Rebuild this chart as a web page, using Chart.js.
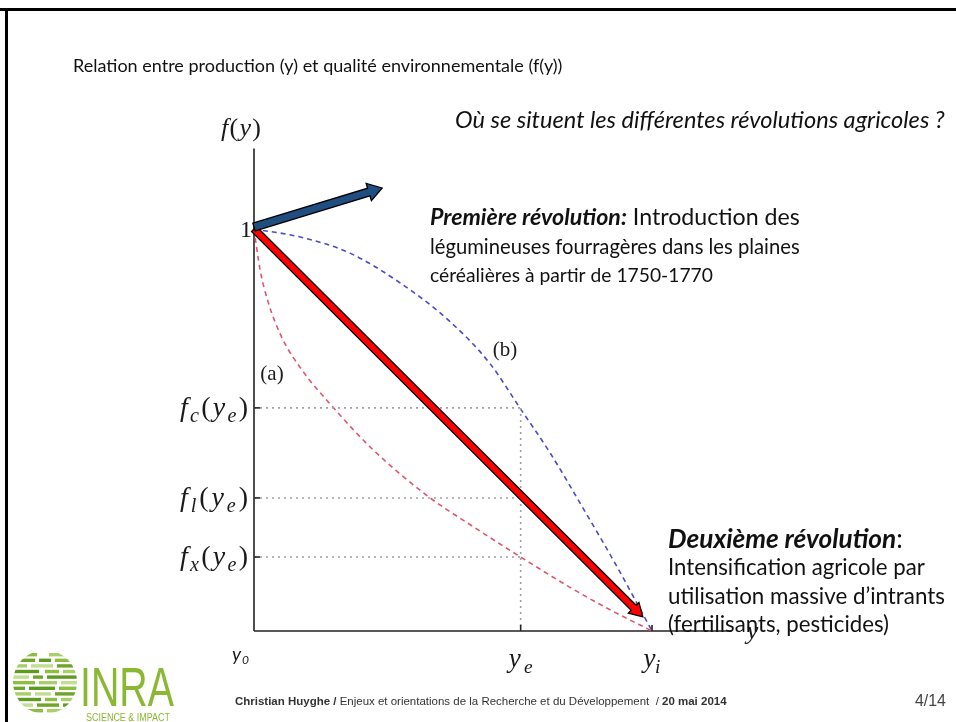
<!DOCTYPE html>
<html>
<head>
<meta charset="utf-8">
<script src="https://cdn.jsdelivr.net/npm/chart.js@4.4.1/dist/chart.umd.min.js"></script>
<style>
  html, body { margin: 0; padding: 0; background: #fff; }
  #wrap { width: 956px; height: 722px; position: relative; }
</style>
</head>
<body>
<div id="wrap"><canvas id="c"></canvas></div>
<script>
"use strict";

// production y (0 = y0, 1 = yi) and environmental quality f(y)
const curveBX = [0, 0.116, 0.241, 0.367, 0.492, 0.593, 0.668, 0.744, 0.827, 0.912, 1];
const curveBF = [1, 0.98, 0.94, 0.866, 0.77, 0.665, 0.555, 0.443, 0.305, 0.16, 0];
const curveAX = [0, 0.015, 0.035, 0.07, 0.12, 0.2, 0.3, 0.44, 0.55, 0.67, 0.8, 0.9, 1];
const curveAF = [1, 0.9, 0.82, 0.73, 0.65, 0.555, 0.45, 0.333, 0.26, 0.184, 0.105, 0.05, 0];

// reference levels
const yE = 0.67;
const yI = 1;
const levelNames = ['c', 'l', 'x'];
const levelValues = [0.555, 0.331, 0.184];

// arrows: [x0, f0, x1, f1]
const redArrow = [0, 1, 0.977, 0.035];
const blueArrow = [0, 1.005, 0.322, 1.102];

const X_MAX = 1.2;
const F_MAX = 1.2;

const pts = (xs, fs) => xs.map((x, i) => ({ x: x, y: fs[i] }));

const guideSets = levelValues.map(v => ({
  data: [{ x: 0, y: v }, { x: yE, y: v }],
  borderColor: '#a0a0a0', borderWidth: 1.6, borderDash: [2, 4]
}));

const datasets = [
  ...guideSets,
  {
    data: [{ x: yE, y: levelValues[0] }, { x: yE, y: 0 }],
    borderColor: '#a0a0a0', borderWidth: 1.6, borderDash: [2, 4]
  },
  {
    data: pts(curveAX, curveAF),
    borderColor: '#e0556e', borderWidth: 1.6, borderDash: [5, 4],
    tension: 0.4, cubicInterpolationMode: 'monotone'
  },
  {
    data: pts(curveBX, curveBF),
    borderColor: '#4b4bc4', borderWidth: 1.6, borderDash: [5, 4],
    tension: 0.4, cubicInterpolationMode: 'monotone'
  },
  // axes
  { data: [{ x: 0, y: 0 }, { x: 0, y: F_MAX }], borderColor: '#222', borderWidth: 1.6 },
  { data: [{ x: 0, y: 0 }, { x: X_MAX, y: 0 }], borderColor: '#222', borderWidth: 1.6 }
];

function segWidth(ctx, segs, size, family) {
  let w = 0;
  for (const s of segs) {
    ctx.font = (s.i ? 'italic ' : '') + (s.b ? 'bold ' : '') + size + 'px ' + family;
    w += ctx.measureText(s.t).width;
  }
  return w;
}

// draws rich text; if target width given, font size is fitted to it
function drawRich(ctx, segs, x, y, size, family, target) {
  if (target) size = size * target / segWidth(ctx, segs, size, family);
  ctx.textBaseline = 'middle';
  ctx.textAlign = 'left';
  for (const s of segs) {
    ctx.font = (s.i ? 'italic ' : '') + (s.b ? 'bold ' : '') + size + 'px ' + family;
    ctx.fillText(s.t, x, y);
    x += ctx.measureText(s.t).width;
  }
}

// math label: parts [text, italic, sub]; target = overall width (spacing is spread)
function drawMath(ctx, parts, x, y, size, align, target) {
  const fam = '"Liberation Serif", "DejaVu Serif", serif';
  const fonts = parts.map(p => (p[1] ? 'italic ' : '') + (p[2] ? size * 0.72 : size) + 'px ' + fam);
  const widths = parts.map((p, i) => { ctx.font = fonts[i]; return ctx.measureText(p[0]).width; });
  let w = widths.reduce((a, b) => a + b, 0);
  let gap = 0;
  if (target && parts.length > 1) { gap = (target - w) / (parts.length - 1); w = target; }
  if (align === 'right') x -= w;
  else if (align === 'center') x -= w / 2;
  ctx.textBaseline = 'alphabetic';
  ctx.textAlign = 'left';
  parts.forEach((p, i) => {
    ctx.font = fonts[i];
    ctx.fillText(p[0], x, y + (p[2] ? size * 0.22 : 0));
    x += widths[i] + gap;
  });
}

function drawArrow(ctx, x0, y0, x1, y1, shaft, headW, headL, fill) {
  const ang = Math.atan2(y1 - y0, x1 - x0);
  const len = Math.hypot(x1 - x0, y1 - y0);
  ctx.save();
  ctx.translate(x0, y0);
  ctx.rotate(ang);
  ctx.beginPath();
  ctx.moveTo(0, -shaft / 2);
  ctx.lineTo(len - headL, -shaft / 2);
  ctx.lineTo(len - headL, -headW / 2);
  ctx.lineTo(len, 0);
  ctx.lineTo(len - headL, headW / 2);
  ctx.lineTo(len - headL, shaft / 2);
  ctx.lineTo(0, shaft / 2);
  ctx.closePath();
  ctx.fillStyle = fill;
  ctx.fill();
  ctx.lineWidth = 1.3;
  ctx.strokeStyle = '#000';
  ctx.stroke();
  ctx.restore();
}

function drawLogo(ctx) {
  // striped globe
  const cx = 45, cy = 682, r = 32;
  ctx.save();
  ctx.beginPath();
  ctx.arc(cx, cy, r, 0, Math.PI * 2);
  ctx.clip();
  const greens = ['#8cbf3f', '#6fa52a', '#a9cf6a', '#5f9a22', '#c3dd93'];
  const rows = [
    [[-20, 12], [4, 16]], [[-30, 20], [-6, 12], [10, 18]], [[-32, 14], [-14, 22], [12, 20]],
    [[-32, 26], [0, 14], [18, 14]], [[-32, 16], [-12, 10], [2, 30]], [[-32, 22], [-6, 18], [16, 16]],
    [[-32, 12], [-16, 26], [14, 18]], [[-32, 18], [-10, 16], [10, 22]], [[-30, 26], [0, 12], [16, 16]],
    [[-26, 14], [-8, 22], [18, 12]], [[-18, 16], [2, 16]]
  ];
  rows.forEach((row, i) => {
    row.forEach((seg, j) => {
      ctx.fillStyle = greens[(i + j * 2) % greens.length];
      ctx.fillRect(cx + seg[0], cy - r + 3 + i * 5.6, seg[1], 3.4);
    });
  });
  ctx.restore();

  ctx.save();
  ctx.fillStyle = '#8ab833';
  ctx.font = '56px "Liberation Sans", Arial, sans-serif';
  ctx.textBaseline = 'alphabetic';
  const w = ctx.measureText('INRA').width;
  ctx.translate(80, 706);
  ctx.scale(94 / w, 1);
  ctx.fillText('INRA', 0, 0);
  ctx.restore();

  ctx.save();
  ctx.fillStyle = '#8ab833';
  ctx.font = '10px "Liberation Sans", Arial, sans-serif';
  ctx.textBaseline = 'middle';
  const w2 = ctx.measureText('SCIENCE & IMPACT').width;
  ctx.translate(86, 718);
  ctx.scale(84 / w2, 1);
  ctx.fillText('SCIENCE & IMPACT', 0, 0);
  ctx.restore();
}

const slidePlugin = {
  id: 'slide',
  beforeDraw(chart) {
    const ctx = chart.ctx;
    ctx.save();
    ctx.fillStyle = '#fff';
    ctx.fillRect(0, 0, chart.width, chart.height);
    ctx.fillStyle = '#000';
    ctx.fillRect(0, 8, chart.width, 3);
    ctx.fillRect(5, 8, 3, chart.height - 8);
    ctx.restore();
  },
  afterDatasetsDraw(chart) {
    const ctx = chart.ctx;
    const xs = chart.scales.x, ys = chart.scales.y;
    const px = v => xs.getPixelForValue(v);
    const py = v => ys.getPixelForValue(v);
    ctx.save();
    // ticks
    ctx.strokeStyle = '#222';
    ctx.lineWidth = 1.6;
    levelValues.forEach(v => {
      ctx.beginPath(); ctx.moveTo(px(0), py(v)); ctx.lineTo(px(0) + 6, py(v)); ctx.stroke();
    });
    [yE, yI].forEach(v => {
      ctx.beginPath(); ctx.moveTo(px(v), py(0)); ctx.lineTo(px(v), py(0) - 6); ctx.stroke();
    });
    drawArrow(ctx, px(redArrow[0]), py(redArrow[1]), px(redArrow[2]), py(redArrow[3]), 7, 15, 13, '#ff0000');
    drawArrow(ctx, px(blueArrow[0]), py(blueArrow[1]), px(blueArrow[2]), py(blueArrow[3]), 8, 18, 14, '#1f4e80');
    ctx.restore();
  },
  afterDraw(chart) {
    const ctx = chart.ctx;
    const xs = chart.scales.x, ys = chart.scales.y;
    const px = v => xs.getPixelForValue(v);
    const py = v => ys.getPixelForValue(v);
    const sans = 'Lato, "Open Sans", sans-serif';
    ctx.save();
    ctx.fillStyle = '#111';

    drawRich(ctx, [{ t: 'Relation entre production (y) et qualité environnementale (f(y))' }], 73, 66, 18, sans, 490);
    drawRich(ctx, [{ t: 'Où se situent les différentes révolutions agricoles ?', i: true }], 455, 120, 18, sans, 490);

    drawRich(ctx, [{ t: 'Première révolution:', b: true, i: true }, { t: ' Introduction des' }], 430, 218, 18, sans, 370);
    drawRich(ctx, [{ t: 'légumineuses fourragères dans les plaines' }], 430, 247, 18, sans, 370);
    drawRich(ctx, [{ t: 'céréalières à partir de 1750-1770' }], 430, 276, 18, sans, 283);

    drawRich(ctx, [{ t: 'Deuxième révolution', b: true, i: true }, { t: ':' }], 668, 540, 18, sans, 235);
    drawRich(ctx, [{ t: 'Intensification agricole par' }], 668, 568, 18, sans, 257);
    drawRich(ctx, [{ t: 'utilisation massive d\u2019intrants' }], 668, 597, 18, sans, 277);
    drawRich(ctx, [{ t: '(fertilisants, pesticides)' }], 668, 625, 18, sans, 221);

    // math labels
    ctx.fillStyle = '#1a1a1a';
    drawMath(ctx, [['f', 1], ['(', 0], ['y', 1], [')', 0]], px(0) - 13, 136, 26, 'center', 40);
    drawMath(ctx, [['1', 0]], px(0) - 2, py(1) + 8, 24, 'right');
    drawMath(ctx, [['(a)', 0]], px(0) + 18, 380, 21, 'center');
    drawMath(ctx, [['(b)', 0]], 505, 356, 21, 'center');
    levelValues.forEach((v, i) => {
      drawMath(ctx, [['f', 1], [levelNames[i], 1, 1], ['(', 0], ['y', 1], ['e', 1, 1], [')', 0]],
        px(0) - 6, py(v) + 8, 28, 'right', 68);
    });
    drawMath(ctx, [['y', 1], ['e', 1, 1]], px(yE), py(0) + 36, 27, 'center', 24);
    drawMath(ctx, [['y', 1], ['i', 1, 1]], px(yI), py(0) + 36, 27, 'center', 17);
    drawMath(ctx, [['y', 1]], px(X_MAX) + 21, py(0) + 8, 26, 'center');
    drawRich(ctx, [{ t: 'y', i: true }], px(0) - 22, py(0) + 24, 19, sans);
    drawRich(ctx, [{ t: '0', i: true }], px(0) - 12, py(0) + 29, 12, sans);

    // footer
    ctx.fillStyle = '#333';
    drawRich(ctx, [
      { t: 'Christian Huyghe / ', b: true },
      { t: 'Enjeux et orientations de la Recherche et du Développement  / ' },
      { t: '20 mai 2014', b: true }
    ], 235, 702, 11, '"Liberation Sans Narrow", "Liberation Sans", Arial, sans-serif', 492);
    ctx.fillStyle = '#444';
    drawRich(ctx, [{ t: '4/14' }], 915, 702, 14, '"Liberation Sans", Arial, sans-serif', 31);

    drawLogo(ctx);
    ctx.restore();
  }
};

new Chart(document.getElementById('c'), {
  type: 'scatter',
  data: { datasets: datasets },
  options: {
    responsive: true,
    maintainAspectRatio: false,
    animation: false,
    clip: false,
    showLine: true,
    elements: { point: { radius: 0, hoverRadius: 0 } },
    layout: { padding: { left: 254, right: 956 - 254 - 398 * X_MAX, top: 631 - 402 * F_MAX, bottom: 91 } },
    plugins: { legend: { display: false }, tooltip: { enabled: false } },
    scales: {
      x: { type: 'linear', display: false, min: 0, max: X_MAX },
      y: { type: 'linear', display: false, min: 0, max: F_MAX }
    }
  },
  plugins: [slidePlugin]
});
</script>
</body>
</html>
